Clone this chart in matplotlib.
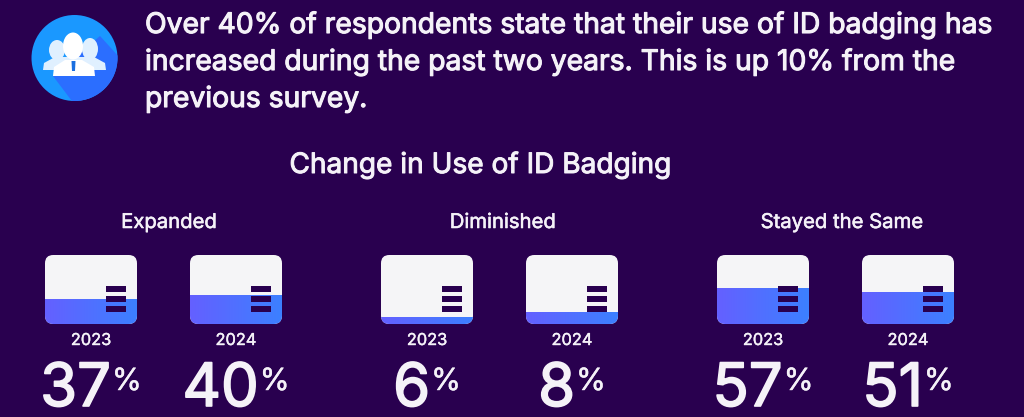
import numpy as np
import matplotlib
matplotlib.use("Agg")
import matplotlib.pyplot as plt
import matplotlib.patheffects as pe
from matplotlib.patches import Circle, FancyBboxPatch, Polygon, Ellipse, Rectangle
from matplotlib.colors import LinearSegmentedColormap

headline = [
    "Over 40% of respondents state that their use of ID badging has",
    "increased during the past two years. This is up 10% from the",
    "previous survey.",
]
chart_title = "Change in Use of ID Badging"
groups = ["Expanded", "Diminished", "Stayed the Same"]
years = ["2023", "2024"]
# printed labels
values_2023 = [37, 6, 57]
values_2024 = [40, 8, 51]
# how high the fill is actually drawn in each card (%), differs a bit from the labels
fill_2023 = [36, 10, 52]
fill_2024 = [42, 17, 46]

BG = "#29004f"
CARD = "#f5f5f7"
TXT = "#f5f2f8"
W, H = 1024, 417

plt.rcParams["font.family"] = ["Inter", "DejaVu Sans"]
fig = plt.figure(figsize=(W / 100, H / 100), dpi=100, facecolor=BG)
ax = fig.add_axes([0, 0, 1, 1])
ax.set_xlim(0, W)
ax.set_ylim(H, 0)
ax.axis("off")


def heavy(width):
    # Inter only loads as regular here, thicken it with a stroke
    return [pe.withStroke(linewidth=width, foreground=TXT)]


# headline
for i, line in enumerate(headline):
    ax.text(145, 33 + i * 37, line, color=TXT, fontsize=20.35, ha="left", va="baseline",
            path_effects=heavy(0.8))
ax.text(480, 173, chart_title, color=TXT, fontsize=20.2, ha="center", va="baseline",
        path_effects=heavy(0.7))

# icon
disc = Circle((74.5, 58), 43, fc="#1a98ff", ec="none", zorder=2)
ax.add_patch(disc)
shadow = Polygon([(53, 76), (100, 36), (140, 80), (90, 125)], fc="#2b6eff", ec="none", zorder=3)
ax.add_patch(shadow)
shadow.set_clip_path(disc)
for cx, cy, w, h in [(57, 50, 16, 20), (90, 49, 16, 22)]:
    ax.add_patch(Ellipse((cx, cy), w, h, fc="#e0f0ff", ec="none", zorder=4))
ax.add_patch(Polygon([(43, 70), (44, 63), (55, 57), (94, 57), (105, 63), (106, 70)],
                     fc="#e0f0ff", ec="none", zorder=4))
ax.add_patch(Ellipse((73, 46), 20, 27, fc="white", ec="none", zorder=5))
ax.add_patch(Polygon([(53, 76), (54, 67), (65, 60), (82, 60), (94, 67), (95, 76)],
                     fc="white", ec="none", zorder=5))
ax.add_patch(Polygon([(71.5, 61), (75.5, 61), (75, 71), (72, 71)], fc="#1a6fe0", ec="none", zorder=6))

# cards
cmap = LinearSegmentedColormap.from_list("fill", ["#6460ff", "#3c80ff"])
grad = np.linspace(0, 1, 92).reshape(1, -1)
card_x = [[45, 190], [381, 526], [717, 862]]
group_x = [169, 503, 842]
card_w, card_h, card_top = 92, 69, 255

renderer = fig.canvas.get_renderer()

for g, group in enumerate(groups):
    ax.text(group_x[g], 228, group, color=TXT, fontsize=14.6, ha="center", va="baseline",
            path_effects=heavy(0.4))
    labels = [values_2023[g], values_2024[g]]
    fills = [fill_2023[g], fill_2024[g]]
    for y in range(2):
        x0 = card_x[g][y]
        cax = fig.add_axes([x0 / W, 1 - (card_top + card_h) / H, card_w / W, card_h / H])
        shape = FancyBboxPatch((0, 0), 1, 100, boxstyle="round,pad=0,rounding_size=0.09",
                               mutation_aspect=100 * card_w / card_h, fc=CARD, ec="none")
        cax.add_patch(shape)
        im = cax.imshow(grad, cmap=cmap, extent=[0, 1, 0, fills[y]], aspect="auto", zorder=2)
        im.set_clip_path(shape)
        cax.set_xlim(0, 1)
        cax.set_ylim(0, 100)
        cax.axis("off")
        # hamburger mark on the card
        for sy in [17.4, 31.9, 46.4]:
            cax.add_patch(Rectangle((0.665, sy), 0.215, 8.7, fc=BG, ec="none", zorder=3))

        cx = x0 + card_w / 2
        ax.text(cx, 345, years[y], color=TXT, fontsize=11.8, ha="center", va="baseline",
                path_effects=heavy(0.3))

        # number plus raised % centred together under the card
        num = ax.text(cx, 406, str(labels[y]), color=TXT, fontsize=43, ha="left", va="baseline",
                      path_effects=heavy(1.2))
        pct = ax.text(cx, 390, "%", color=TXT, fontsize=22, ha="left", va="baseline",
                      path_effects=heavy(0.3))
        num_w = num.get_window_extent(renderer).width
        pct_w = pct.get_window_extent(renderer).width
        gap = 1
        left = cx - (num_w + gap + pct_w) / 2
        num.set_x(left)
        pct.set_x(left + num_w + gap)

fig.savefig("out.png", dpi=100, facecolor=BG)
